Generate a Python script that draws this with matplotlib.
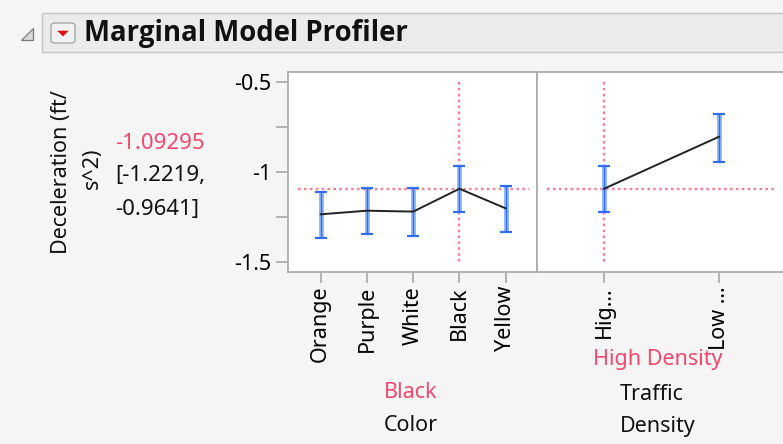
import matplotlib
matplotlib.use("Agg")
import matplotlib.pyplot as plt
from matplotlib.patches import Rectangle, Polygon, FancyBboxPatch

plt.rcParams['font.family'] = ['Noto Sans', 'DejaVu Sans']

# ---- data -------------------------------------------------------------
color_levels = ["Orange", "Purple", "White", "Black", "Yellow"]
color_mean = [-1.235, -1.215, -1.220, -1.09295, -1.202]
color_lower = [-1.368, -1.344, -1.356, -1.2219, -1.335]
color_upper = [-1.113, -1.091, -1.091, -0.9641, -1.078]

density_levels = ["Hig...", "Low ..."]
density_mean = [-1.09295, -0.804]
density_lower = [-1.2219, -0.946]
density_upper = [-0.9641, -0.678]

current_value = -1.09295
current_ci = (-1.2219, -0.9641)
current_color = "Black"
current_density = "High Density"
y_ticks_major = [-0.5, -1.0, -1.5]
y_tick_labels = ["-0.5", "-1", "-1.5"]
y_ticks_minor = [-0.75, -1.25]
response_name = ["Deceleration (ft/", "s^2)"]

# ---- styling ----------------------------------------------------------
W, H = 783, 444
BG = "#F5F5F5"
FRAME = "#A8A8A8"
RED = "#F5476B"
BAR_LIGHT = "#86AEF8"
BAR_DARK = "#2F6EF2"
FS = 15.5

fig = plt.figure(figsize=(W / 100, H / 100), dpi=100, facecolor=BG)


def fx(x):
    return x / W


def fy(y):
    return 1 - y / H


def pax(x0, y0, x1, y1):
    return [fx(x0), fy(y1), fx(x1) - fx(x0), fy(y0) - fy(y1)]


# header bar
fig.patches.append(Rectangle((fx(42), fy(52)), fx(800) - fx(42), fy(13) - fy(52),
                             transform=fig.transFigure, facecolor="#EBEBEB",
                             edgecolor="#C4C4C4", lw=1.0))
fig.patches.append(Polygon([(fx(33), fy(28)), (fx(33), fy(40)), (fx(21), fy(40))],
                           closed=True, transform=fig.transFigure,
                           facecolor="#DADADA", edgecolor="#7A7A7A", lw=0.9))
fig.patches.append(FancyBboxPatch((fx(51), fy(43)), fx(75) - fx(51), fy(23) - fy(43),
                                  boxstyle="round,pad=0,rounding_size=0.006",
                                  transform=fig.transFigure, facecolor="#F2F2F2",
                                  edgecolor="#A0A0A0", lw=0.9))
fig.patches.append(Polygon([(fx(58), fy(31)), (fx(68), fy(31)), (fx(63), fy(36))],
                           closed=True, transform=fig.transFigure,
                           facecolor="#E0101A", edgecolor="#E0101A", lw=0.5))
fig.text(fx(84), fy(33), "Marginal Model Profiler", fontsize=19.8, fontweight="bold",
         family=["Open Sans", "DejaVu Sans"],
         ha="left", va="center", color="#111111")

ylim = (-1.5556, -0.4444)


def style_axes(ax):
    ax.set_facecolor("white")
    for s in ax.spines.values():
        s.set_color(FRAME)
        s.set_linewidth(1.2)
    ax.set_ylim(*ylim)
    ax.tick_params(axis="x", length=8, width=1.2, color=FRAME, labelsize=FS,
                   labelrotation=90, pad=2)


def draw_profile(ax, xs, mean, lower, upper):
    for x, lo, hi in zip(xs, lower, upper):
        ax.plot([x, x], [lo, hi], color=BAR_LIGHT, lw=3.4, solid_capstyle="butt", zorder=2)
    ax.errorbar(xs, mean, yerr=[[m - l for m, l in zip(mean, lower)],
                                [u - m for m, u in zip(mean, upper)]],
                fmt="none", ecolor=BAR_DARK, elinewidth=0.8, capsize=4.5,
                capthick=1.6, zorder=3)
    ax.plot(xs, mean, color="#222222", lw=1.4, zorder=4)


dot = (0, (1.1, 1.4))

# Color panel
ax1 = fig.add_axes(pax(288, 72, 537, 272))
style_axes(ax1)
xc = list(range(len(color_levels)))
ax1.set_xlim(-0.707, 4.677)
ax1.set_xticks(xc)
ax1.set_xticklabels(color_levels)
ax1.set_yticks(y_ticks_major)
ax1.set_yticklabels(y_tick_labels)
ax1.set_yticks(y_ticks_minor, minor=True)
ax1.tick_params(axis="y", which="both", length=9, width=1.2, color=FRAME,
                labelsize=FS, pad=3)
draw_profile(ax1, xc, color_mean, color_lower, color_upper)
ic = color_levels.index(current_color)
ax1.plot([-0.5, len(color_levels) - 0.5], [current_value, current_value],
         color=RED, lw=1.7, ls=dot, alpha=0.7, zorder=1)
ax1.plot([ic, ic], [-0.5, -1.5], color=RED, lw=1.7, ls=dot, alpha=0.7, zorder=1)

# Traffic density panel
ax2 = fig.add_axes(pax(537, 72, 785, 272))
style_axes(ax2)
xd = list(range(len(density_levels)))
ax2.set_xlim(-0.583, 1.574)
ax2.set_xticks(xd)
ax2.set_xticklabels(density_levels)
ax2.set_yticks([])
draw_profile(ax2, xd, density_mean, density_lower, density_upper)
ax2.plot([-0.5, len(density_levels) - 0.5], [current_value, current_value],
         color=RED, lw=1.7, ls=dot, alpha=0.7, zorder=1)
ax2.plot([0, 0], [-0.5, -1.5], color=RED, lw=1.7, ls=dot, alpha=0.7, zorder=1)

# factor labels under each panel
fig.text(fx(411), fy(392), current_color, color=RED, fontsize=FS, ha="center", va="center")
fig.text(fx(411), fy(425), "Color", color="#111111", fontsize=FS, ha="center", va="center")
fig.text(fx(658), fy(359), current_density, color=RED, fontsize=FS, ha="center", va="center")
fig.text(fx(652), fy(394), "Traffic", color="#111111", fontsize=FS, ha="center", va="center")
fig.text(fx(658), fy(426), "Density", color="#111111", fontsize=FS, ha="center", va="center")

# response name and current prediction
fig.text(fx(62), fy(172), response_name[0], rotation=90, fontsize=FS,
         ha="center", va="center", color="#111111")
fig.text(fx(92), fy(168), response_name[1], rotation=90, fontsize=FS,
         ha="center", va="center", color="#111111")
fig.text(fx(115), fy(149), f"{current_value:.5f}", color=RED, fontsize=FS + 0.5,
         ha="left", va="baseline")
fig.text(fx(115), fy(181), f"[{current_ci[0]:.4f},", color="#111111", fontsize=FS + 0.5,
         ha="left", va="baseline")
fig.text(fx(115), fy(215), f"{current_ci[1]:.4f}]", color="#111111", fontsize=FS + 0.5,
         ha="left", va="baseline")

fig.savefig("out.png", dpi=100, facecolor=BG)
